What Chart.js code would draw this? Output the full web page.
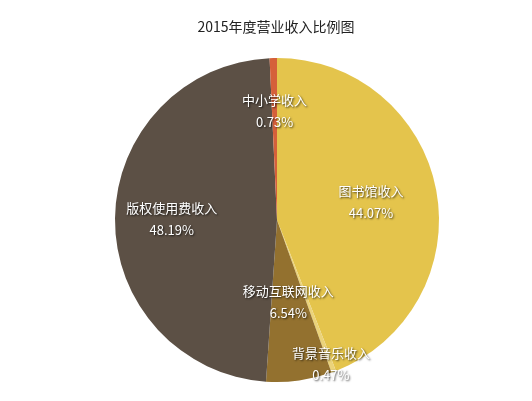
<!DOCTYPE html>
<html>
<head>
<meta charset="utf-8">
<script src="https://cdn.jsdelivr.net/npm/chart.js@4/dist/chart.umd.min.js"></script>
<style>
  html, body { margin: 0; padding: 0; background: #fff; }
  #wrap { width: 532px; height: 401px; }
</style>
</head>
<body>
<div id="wrap"><canvas id="pieChart"></canvas></div>
<script>
const TITLE = '2015年度营业收入比例图';
const CATEGORIES = ['图书馆收入', '背景音乐收入', '移动互联网收入', '版权使用费收入', '中小学收入'];
const VALUES = [44.07, 0.47, 6.54, 48.19, 0.73];
const COLORS = ['#E4C44C', '#EBD37A', '#93712F', '#5C5045', '#D5603A'];
// how far out (fraction of radius) each label sits
const LABEL_RADIUS = [0.59, 0.95, 0.51, 0.65, 0.67];

const FONT = '"Noto Sans CJK SC", "Noto Sans", sans-serif';

// draws title and in-slice labels
const labelPlugin = {
    id: 'sliceLabels',
    afterDraw(chart) {
        const ctx = chart.ctx;
        ctx.save();
        ctx.fillStyle = '#222';
        ctx.font = '14px ' + FONT;
        ctx.textAlign = 'center';
        ctx.textBaseline = 'middle';
        ctx.fillText(TITLE, chart.width / 2 + 10, 27);

        const meta = chart.getDatasetMeta(0);
        ctx.font = '13px ' + FONT;
        meta.data.forEach((arc, i) => {
            const mid = (arc.startAngle + arc.endAngle) / 2;
            const r = arc.outerRadius * LABEL_RADIUS[i];
            const x = arc.x + Math.cos(mid) * r;
            const y = arc.y + Math.sin(mid) * r;
            ctx.shadowColor = 'rgba(0,0,0,0.75)';
            ctx.shadowBlur = 2;
            ctx.shadowOffsetX = 1;
            ctx.shadowOffsetY = 1;
            ctx.fillStyle = '#fff';
            ctx.fillText(CATEGORIES[i], x, y - 11);
            ctx.fillText(VALUES[i].toFixed(2) + '%', x, y + 11);
        });
        ctx.restore();
    }
};

new Chart(document.getElementById('pieChart').getContext('2d'), {
    type: 'pie',
    data: {
        labels: CATEGORIES,
        datasets: [{
            data: VALUES,
            backgroundColor: COLORS,
            borderWidth: 0
        }]
    },
    options: {
        responsive: true,
        maintainAspectRatio: false,
        animation: false,
        layout: { padding: { top: 58, bottom: 19, left: 22, right: 0 } },
        plugins: {
            legend: { display: false },
            tooltip: { enabled: false },
            title: { display: false }
        }
    },
    plugins: [labelPlugin]
});
</script>
</body>
</html>
